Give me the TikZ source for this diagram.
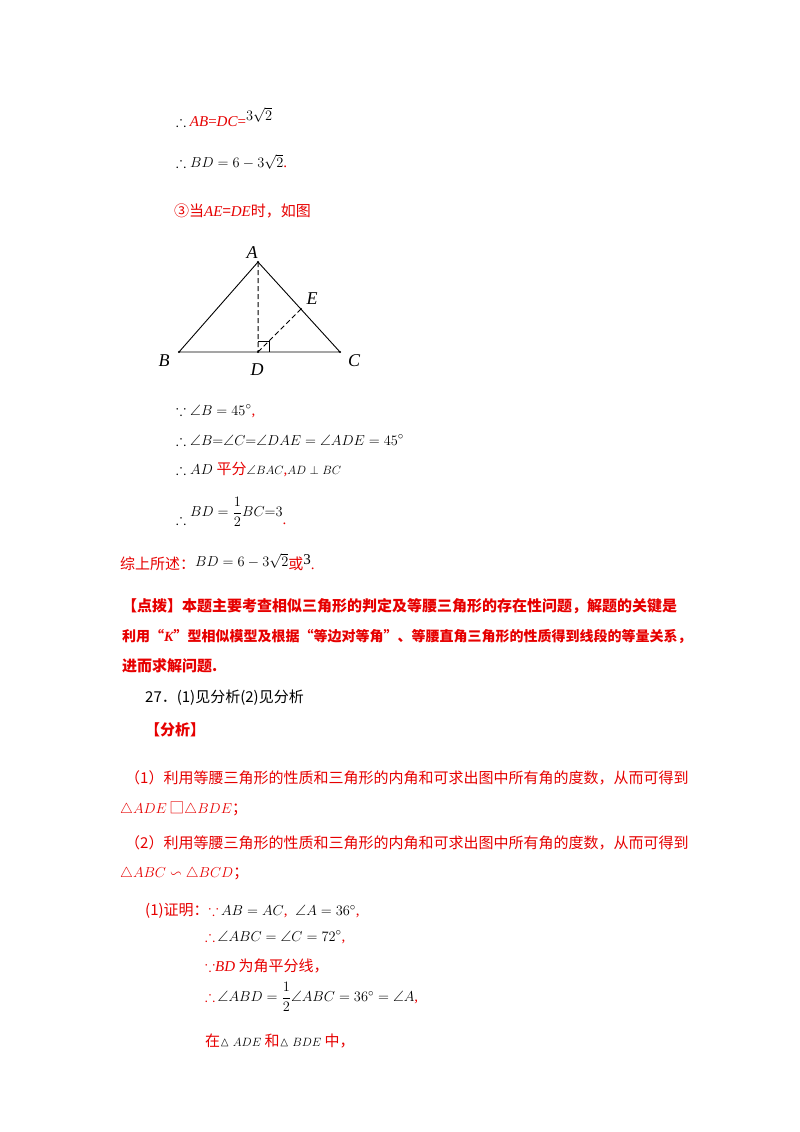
\documentclass[tikz,border=0pt]{standalone}
\usepackage{amsmath,amssymb}
\usepackage{fontspec}
\setmainfont{Liberation Serif}
\newfontfamily\cjk{Noto Sans CJK SC}
\newcommand{\li}[1]{{\rmfamily\itshape #1}}
\definecolor{rd}{RGB}{230,0,0}
\begin{document}
\begin{tikzpicture}[x=1pt,y=-1pt,
  t/.style={anchor=west,inner sep=0pt,font=\fontsize{15}{18}\selectfont},
  r/.style={t,text=rd},
  lab/.style={font=\fontsize{18}{20}\selectfont\itshape,inner sep=0pt}]
\useasboundingbox (0,0) rectangle (800,1132);
\node[t] (l1) at (176,117) {$\therefore$ \textcolor{rd}{\textit{AB}=\textit{DC}=}\raisebox{6pt}{$3\sqrt2$}};
\node[t] (l2) at (176,162) {$\therefore BD=6-3\sqrt2$\textcolor{rd}{.}};
\node[r] (l3) at (174,211) {\cjk ③当\li{AE}=\li{DE}时，如图};
% triangle
\coordinate (A) at (258,262); \coordinate (B) at (179,352);
\coordinate (C) at (340,352); \coordinate (D) at (258,352);
\coordinate (E) at (301,309);
\draw[line width=0.9pt] (A)--(B)--(C)--cycle;
\draw[dash pattern=on 5pt off 3pt,line width=1pt] (A)--(D) (D)--(E);
\draw[line width=0.7pt] (258,341)--(269,341)--(269,352);
\foreach \p in {A,B,C,D,E} \fill (\p) circle (1.2pt);
\node[lab] (la) at (252,253) {A};
\node[lab] (lb) at (164,361) {B};
\node[lab] (lc) at (354,361) {C};
\node[lab] (ld) at (257,370) {D};
\node[lab] (le) at (312,299) {E};
\node[t] (l4) at (176,411) {$\because \angle B=45^\circ$\textcolor{rd}{,}};
\node[t] (l5) at (176,440) {$\therefore \angle B{=}\angle C{=}\angle DAE=\angle ADE=45^\circ$};
\node[t] (l6) at (176,469) {$\therefore AD$ \textcolor{rd}{\cjk 平分}{\fontsize{13}{15}\selectfont$\angle BAC$}\textcolor{rd}{,}{\fontsize{13}{15}\selectfont $AD\perp BC$}};
\node[t] (l7) at (176,512) {$\therefore\raisebox{8pt}{$BD=\dfrac12 BC{=}3$}$\textcolor{rd}{.}};
\node[t] (l8) at (120,562) {\textcolor{rd}{\cjk 综上所述：}\raisebox{3pt}{$BD=6-3\sqrt2$}\textcolor{rd}{\cjk 或}\raisebox{5pt}{3}\textcolor{rd}{.}};
\node[r] (p1) at (122,606) {\cjk\bfseries 【点拨】本题主要考查相似三角形的判定及等腰三角形的存在性问题，解题的关键是};
\node[r,font=\fontsize{14}{18}\selectfont] (p2) at (122,636) {\cjk\bfseries 利用“\li{\bfseries K}”型相似模型及根据“等边对等角”、等腰直角三角形的性质得到线段的等量关系，};
\node[r] (p3) at (122,666) {\cjk\bfseries 进而求解问题.};
\node[t] (q1) at (145,698) {\cjk 27．(1)见分析(2)见分析};
\node[r] (q2) at (145,730) {\cjk\bfseries 【分析】};
\node[r] (q3) at (125,778) {\cjk （1）利用等腰三角形的性质和三角形的内角和可求出图中所有角的度数，从而可得到};
\node[r] (q4) at (120,809) {$\triangle ADE$\,{\cjk □}$\triangle BDE$\cjk ；};
\node[r] (q5) at (125,843) {\cjk （2）利用等腰三角形的性质和三角形的内角和可求出图中所有角的度数，从而可得到};
\node[r] (q6) at (120,874) {$\triangle ABC\backsim\triangle BCD$\cjk ；};
\node[t] (s1) at (145,911) {\textcolor{rd}{\cjk (1)证明：$\because$}\,{\color{black}$AB=AC$}\textcolor{rd}{,}\; $\angle A=36^\circ$\textcolor{rd}{,}};
\node[t] (s2) at (205,937) {\textcolor{rd}{$\therefore$}\,$\angle ABC=\angle C=72^\circ$\textcolor{rd}{,}};
\node[r] (s3) at (205,966) {\cjk $\because$\li{BD} 为角平分线，};
\node[t] (s4) at (205,997) {\textcolor{rd}{$\therefore$}\,$\angle ABD=\dfrac12\angle ABC=36^\circ=\angle A$\textcolor{rd}{,}};
\node[r] (s5) at (205,1041) {\cjk 在{\color{black}\fontsize{13}{15}\selectfont$\vartriangle ADE$} 和{\color{black}\fontsize{13}{15}\selectfont$\vartriangle BDE$} 中，};
\end{tikzpicture}
\end{document}
